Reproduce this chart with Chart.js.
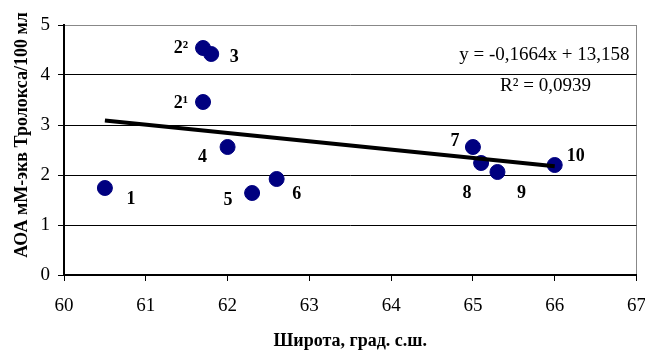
<!DOCTYPE html>
<html>
<head>
<meta charset="utf-8">
<script src="https://cdn.jsdelivr.net/npm/chart.js@4/dist/chart.umd.min.js"></script>
<style>
  html, body { margin: 0; padding: 0; background: #fff; }
  #wrap { width: 645px; height: 352px; }
</style>
</head>
<body>
<div id="wrap"><canvas id="aoaChart"></canvas></div>
<script>
// Широта станций и АОА (мМ-экв Тролокса/100 мл)
const latitudes = [60.5, 61.7, 61.8, 61.7, 62.0, 62.3, 62.6, 65.0, 65.1, 65.3, 66.0];
const aoaValues = [1.74, 4.54, 4.42, 3.46, 2.56, 1.64, 1.92, 2.56, 2.24, 2.06, 2.2];
const pointNames = ['1', '2²', '3', '2¹', '4', '5', '6', '7', '8', '9', '10'];

// линейный тренд
const trendSlope = -0.1664;
const trendIntercept = 13.158;
const trendRange = [60.5, 66.0];
const equationText = 'y = -0,1664x + 13,158';
const r2Text = 'R² = 0,0939';

const xTicks = [60, 61, 62, 63, 64, 65, 66, 67];
const yTicks = [0, 1, 2, 3, 4, 5];
const yTitle = 'АОА мМ-экв Тролокса/100 мл';

// смещения подписей точек, px
const labelOffsets = [[26, 11], [-22, 0], [23, 3], [-22, 1], [-25, 10], [-24, 7],
                      [20, 15], [-18, -6], [-14, 30], [24, 21], [21, -9]];

const serif = '"Liberation Serif", "Times New Roman", serif';

const labelsPlugin = {
    id: 'pointLabels',
    afterDatasetsDraw(chart) {
        const ctx = chart.ctx;
        const meta = chart.getDatasetMeta(1);
        ctx.save();
        ctx.fillStyle = '#000';
        ctx.textAlign = 'center';
        ctx.textBaseline = 'middle';
        ctx.font = 'bold 18px ' + serif;
        meta.data.forEach((pt, i) => {
            const off = labelOffsets[i];
            ctx.fillText(pointNames[i], pt.x + off[0], pt.y + off[1]);
        });
        const area = chart.chartArea;
        ctx.font = '19px ' + serif;
        ctx.textAlign = 'right';
        ctx.fillText(equationText, area.right - 7, area.top + 30);
        ctx.textAlign = 'center';
        ctx.fillText(r2Text, area.right - 91, area.top + 61);

        // подпись оси Y
        ctx.translate(22, area.top + 110);
        ctx.rotate(-Math.PI / 2);
        ctx.font = 'bold 18px ' + serif;
        ctx.fillText(yTitle, 0, 0);
        ctx.restore();
    }
};

const trendData = trendRange.map(x => ({ x: x, y: trendSlope * x + trendIntercept }));

new Chart(document.getElementById('aoaChart'), {
    type: 'scatter',
    data: {
        datasets: [
            {
                type: 'line',
                data: trendData,
                borderColor: '#000',
                borderWidth: 4,
                pointRadius: 0,
                fill: false
            },
            {
                data: latitudes.map((x, i) => ({ x: x, y: aoaValues[i] })),
                backgroundColor: '#000080',
                borderColor: '#000080',
                pointRadius: 7.5,
                pointHoverRadius: 7.5
            }
        ]
    },
    options: {
        responsive: true,
        maintainAspectRatio: false,
        animation: false,
        events: [],
        layout: { padding: { top: 25, right: 8, left: 0, bottom: 0 } },
        plugins: { legend: { display: false }, tooltip: { enabled: false } },
        scales: {
            x: {
                type: 'linear',
                min: 60,
                max: 67,
                afterBuildTicks: s => { s.ticks = xTicks.map(v => ({ value: v })); },
                afterFit: s => { s.height = 77; s.paddingLeft = 0; s.paddingRight = 0; },
                ticks: { color: '#000', font: { family: serif, size: 19 }, padding: 14, maxRotation: 0 },
                grid: {
                    drawOnChartArea: true,
                    color: c => (c.tick && c.tick.value === 67 ? '#888' : 'rgba(0,0,0,0)'),
                    tickColor: '#000',
                    tickLength: 6,
                    lineWidth: 1
                },
                border: { color: '#000', width: 2 },
                title: {
                    display: true,
                    text: 'Широта, град. с.ш.',
                    color: '#000',
                    font: { family: serif, size: 18, weight: 'bold' },
                    padding: { top: 10, bottom: 0 }
                }
            },
            y: {
                min: 0,
                max: 5,
                afterBuildTicks: s => { s.ticks = yTicks.map(v => ({ value: v })); },
                afterFit: s => { s.width = 64; s.paddingTop = 0; s.paddingBottom = 0; },
                ticks: { color: '#000', font: { family: serif, size: 19 }, padding: 8 },
                grid: {
                    color: c => (c.tick && c.tick.value === 5 ? '#888' : '#000'),
                    tickColor: '#000',
                    tickLength: 6,
                    lineWidth: 1
                },
                border: { color: '#000', width: 2 }
            }
        }
    },
    plugins: [labelsPlugin]
});
</script>
</body>
</html>
